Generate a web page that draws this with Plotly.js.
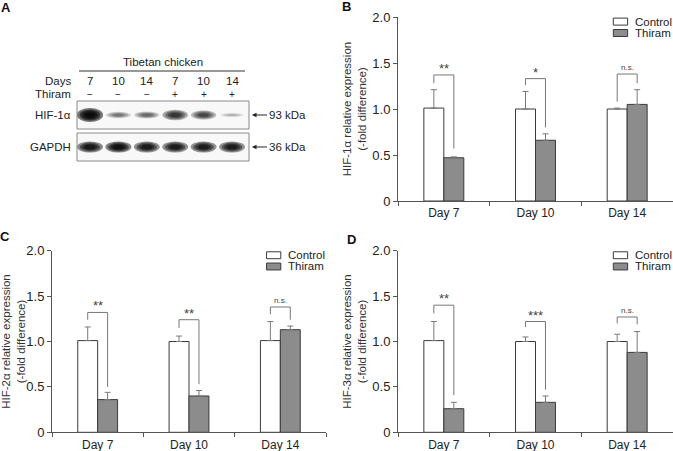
<!DOCTYPE html>
<html>
<head>
<meta charset="utf-8">
<script src="https://cdn.plot.ly/plotly-3.0.1.min.js"></script>
<style>html,body{margin:0;padding:0;background:#fff;}#chart{width:673px;height:451px;}</style>
</head>
<body>
<div id="chart"></div>
<script>
// ---------- DATA ----------
const days = ['Day 7', 'Day 10', 'Day 14'];
const yTickVals = [0, 0.5, 1, 1.5, 2];
const yTickText = ['0', '0.5', '1.0', '1.5', '2.0'];
const seriesNames = ['Control', 'Thiram'];

// Panel B: HIF-1α
const hif1Control = [1.01, 1.00, 1.00];
const hif1ControlErr = [0.20, 0.19, 0.01];
const hif1Thiram = [0.47, 0.66, 1.05];
const hif1ThiramErr = [0.01, 0.07, 0.16];
const hif1BracketTop = [1.37, 1.33, 1.38];
const hif1BracketLeft = [1.28, 1.26, 1.08];
const hif1BracketRight = [0.57, 0.80, 1.28];
const hif1Sig = ['**', '*', 'n.s.'];

// Panel C: HIF-2α
const hif2Control = [1.01, 1.00, 1.01];
const hif2ControlErr = [0.15, 0.06, 0.21];
const hif2Thiram = [0.36, 0.40, 1.13];
const hif2ThiramErr = [0.08, 0.06, 0.04];
const hif2BracketTop = [1.32, 1.24, 1.38];
const hif2BracketLeft = [1.24, 1.15, 1.30];
const hif2BracketRight = [0.50, 0.53, 1.24];
const hif2Sig = ['**', '**', 'n.s.'];

// Panel D: HIF-3α
const hif3Control = [1.01, 1.00, 1.00];
const hif3ControlErr = [0.21, 0.05, 0.08];
const hif3Thiram = [0.26, 0.33, 0.88];
const hif3ThiramErr = [0.07, 0.07, 0.23];
const hif3BracketTop = [1.40, 1.22, 1.27];
const hif3BracketLeft = [1.31, 1.16, 1.20];
const hif3BracketRight = [0.41, 0.47, 1.19];
const hif3Sig = ['**', '***', 'n.s.'];

// Panel A: western blot
const blotTitle = 'Tibetan chicken';
const laneDays = ['7', '10', '14', '7', '10', '14'];
const laneThiram = ['\u2212', '\u2212', '\u2212', '+', '+', '+'];
const hifBandIntensity = [1.0, 0.55, 0.6, 0.82, 0.75, 0.3];
const gapdhBandIntensity = [0.95, 0.97, 0.93, 0.93, 0.93, 0.93];
const blotRows = ['HIF-1\u03b1', 'GAPDH'];
const blotSizes = ['93 kDa', '36 kDa'];

// ---------- STYLE ----------
const FONT = 'Arial, "Liberation Sans", sans-serif';
const AXC = '#555';
const TXT = '#222';
const CTRL_FILL = '#ffffff';
const THIR_FILL = '#8c8c8c';
const BAR_LINE = '#3a3a3a';
const ERR_C = '#7a7a7a';
const BRK_C = '#777';
const BARGAP = 0.564;
const OFF = (1 - BARGAP) / 4;
const W = 673, H = 451;

const idx = days.map((d, i) => i);
const zeros = days.map(() => 0);

const panels = [
  {xa: 'x', ya: 'y', ctrl: hif1Control, ce: hif1ControlErr, thr: hif1Thiram, te: hif1ThiramErr,
   top: hif1BracketTop, left: hif1BracketLeft, right: hif1BracketRight, sig: hif1Sig,
   title: 'HIF-1\u03b1 relative expression<br>(-fold difference)'},
  {xa: 'x2', ya: 'y2', ctrl: hif2Control, ce: hif2ControlErr, thr: hif2Thiram, te: hif2ThiramErr,
   top: hif2BracketTop, left: hif2BracketLeft, right: hif2BracketRight, sig: hif2Sig,
   title: 'HIF-2\u03b1 relative expression<br>(-fold difference)'},
  {xa: 'x3', ya: 'y3', ctrl: hif3Control, ce: hif3ControlErr, thr: hif3Thiram, te: hif3ThiramErr,
   top: hif3BracketTop, left: hif3BracketLeft, right: hif3BracketRight, sig: hif3Sig,
   title: 'HIF-3\u03b1 relative expression<br>(-fold difference)'}
];

const traces = [];
const shapes = [];
const annotations = [];

panels.forEach(p => {
  traces.push({
    type: 'bar', x: idx, y: p.ctrl, name: seriesNames[0], xaxis: p.xa, yaxis: p.ya,
    offsetgroup: 'c', showlegend: false,
    marker: {color: CTRL_FILL, line: {color: BAR_LINE, width: 1}},
    error_y: {type: 'data', symmetric: false, array: p.ce, arrayminus: zeros, color: ERR_C, thickness: 1, width: 3}
  });
  traces.push({
    type: 'bar', x: idx, y: p.thr, name: seriesNames[1], xaxis: p.xa, yaxis: p.ya,
    offsetgroup: 't', showlegend: false,
    marker: {color: THIR_FILL, line: {color: BAR_LINE, width: 1}},
    error_y: {type: 'data', symmetric: false, array: p.te, arrayminus: zeros, color: ERR_C, thickness: 1, width: 3}
  });
  // significance brackets
  idx.forEach(i => {
    const xl = i - OFF, xr = i + OFF;
    shapes.push({type: 'path', xref: p.xa, yref: p.ya,
      path: `M ${xl},${p.left[i]} L ${xl},${p.top[i]} L ${xr},${p.top[i]} L ${xr},${p.right[i]}`,
      line: {color: BRK_C, width: 1}});
    const ns = p.sig[i] === 'n.s.';
    annotations.push({xref: p.xa, yref: p.ya, x: i, y: p.top[i], text: p.sig[i], showarrow: false,
      yanchor: 'bottom', yshift: ns ? 0 : -3, font: {size: ns ? 8 : 13, color: '#444', family: FONT}});
  });
  // manual legend
  const xd = p.xa + ' domain', yd = p.ya + ' domain';
  [[0.975, CTRL_FILL], [0.913, THIR_FILL]].forEach((r, k) => {
    shapes.push({type: 'rect', xref: xd, yref: yd, x0: 0.783, x1: 0.835, y0: r[0] - 0.019, y1: r[0] + 0.019,
      fillcolor: r[1], line: {color: BAR_LINE, width: 1}});
    annotations.push({xref: xd, yref: yd, x: 0.853, y: r[0], text: seriesNames[k], showarrow: false,
      xanchor: 'left', yanchor: 'middle', font: {size: 11.5, color: TXT, family: FONT}});
  });
});

function xAx(domain, anchor) {
  return {domain: domain, anchor: anchor, range: [-0.5, 2.5], tickmode: 'array', tickvals: idx, ticktext: days,
    ticks: 'outside', ticklen: 1, tickcolor: 'rgba(0,0,0,0)', showline: true, linecolor: AXC, linewidth: 1,
    showgrid: false, zeroline: false, tickfont: {size: 12, color: TXT, family: FONT}, fixedrange: true,
    minor: {tickmode: 'array', tickvals: [-0.5, 0.5, 1.5, 2.5], ticks: 'outside', ticklen: 4, tickcolor: AXC, showgrid: false}};
}
function yAx(domain, anchor, title) {
  return {domain: domain, anchor: anchor, range: [0, 2], tickmode: 'array', tickvals: yTickVals, ticktext: yTickText,
    ticks: 'outside', ticklen: 4, tickcolor: AXC, showline: true, linecolor: AXC, linewidth: 1,
    showgrid: false, zeroline: false, tickfont: {size: 13, color: TXT, family: FONT}, fixedrange: true,
    title: {text: title, font: {size: 11.5, color: '#333', family: FONT}, standoff: 3}};
}

// ---------- PANEL A (blot) on x4/y4: lane units / row units ----------
const LANE_PX = 28.4, LANE0_PX = 90;
const ROW_PX = 32, ROW0_PX = 115;
const ax4range = [(0 - LANE0_PX) / LANE_PX, (340 - LANE0_PX) / LANE_PX];
const ay4range = [(200 - ROW0_PX) / ROW_PX, (0 - ROW0_PX) / ROW_PX];
const lanes = laneDays.map((d, i) => i);
const boxX0 = (77 - LANE0_PX) / LANE_PX, boxX1 = (249 - LANE0_PX) / LANE_PX;
const boxHalf = 14 / ROW_PX;
const labelX = (73 - LANE0_PX) / LANE_PX;

blotRows.forEach((r, row) => {
  shapes.push({type: 'rect', xref: 'x4', yref: 'y4', x0: boxX0, x1: boxX1, y0: row - boxHalf, y1: row + boxHalf,
    fillcolor: '#f8f8f8', line: {width: 0}});
});
function band(i, row, intensity, halfHpx) {
  const hw = 0.40 + 0.06 * intensity;
  const a = 1 - Math.pow(1 - 0.95 * intensity, 0.25);
  [1, 0.8, 0.6, 0.4].forEach(s => {
    shapes.push({type: 'circle', xref: 'x4', yref: 'y4',
      x0: i - hw * s, x1: i + hw * s, y0: row - halfHpx * s / ROW_PX, y1: row + halfHpx * s / ROW_PX,
      fillcolor: '#000', opacity: a, line: {width: 0}});
  });
}
lanes.forEach(i => band(i, 0, hifBandIntensity[i], 1.5 + 5.5 * hifBandIntensity[i] * hifBandIntensity[i]));
lanes.forEach(i => band(i, 1, gapdhBandIntensity[i], 5.5));
blotRows.forEach((r, row) => {
  shapes.push({type: 'rect', xref: 'x4', yref: 'y4', x0: boxX0, x1: boxX1, y0: row - boxHalf, y1: row + boxHalf,
    fillcolor: 'rgba(0,0,0,0)', line: {color: '#888', width: 1}});
  annotations.push({xref: 'x4', yref: 'y4', x: labelX, y: row, text: r, showarrow: false, xanchor: 'right',
    yanchor: 'middle', font: {size: 11.5, color: TXT, family: FONT}});
  annotations.push({xref: 'x4', yref: 'y4', x: (252 - LANE0_PX) / LANE_PX, y: row, text: blotSizes[row],
    showarrow: true, ax: 15, ay: 0, xanchor: 'left', arrowhead: 2, arrowsize: 0.9, arrowwidth: 1,
    arrowcolor: '#222', standoff: 0, font: {size: 11.5, color: TXT, family: FONT}});
});
const rowDays = (81 - ROW0_PX) / ROW_PX, rowThiram = (94 - ROW0_PX) / ROW_PX;
annotations.push({xref: 'x4', yref: 'y4', x: labelX, y: rowDays, text: 'Days', showarrow: false, xanchor: 'right',
  font: {size: 11.5, color: TXT, family: FONT}});
annotations.push({xref: 'x4', yref: 'y4', x: labelX, y: rowThiram, text: 'Thiram', showarrow: false, xanchor: 'right',
  font: {size: 11.5, color: TXT, family: FONT}});
lanes.forEach(i => {
  annotations.push({xref: 'x4', yref: 'y4', x: i, y: rowDays, text: laneDays[i], showarrow: false,
    font: {size: 11.5, color: TXT, family: FONT}});
  annotations.push({xref: 'x4', yref: 'y4', x: i, y: rowThiram, text: laneThiram[i], showarrow: false,
    font: {size: 10, color: TXT, family: FONT}});
});
annotations.push({xref: 'x4', yref: 'y4', x: (163 - LANE0_PX) / LANE_PX, y: (62 - ROW0_PX) / ROW_PX, text: blotTitle,
  showarrow: false, font: {size: 11.5, color: TXT, family: FONT}});
shapes.push({type: 'line', xref: 'x4', yref: 'y4', x0: (79 - LANE0_PX) / LANE_PX, x1: (245 - LANE0_PX) / LANE_PX,
  y0: (71 - ROW0_PX) / ROW_PX, y1: (71 - ROW0_PX) / ROW_PX, line: {color: '#333', width: 1}});

// panel letters
[['A', 5.5, 7.5], ['B', 346.5, 7], ['C', 5, 236], ['D', 351, 239]].forEach(l => {
  annotations.push({xref: 'paper', yref: 'paper', x: l[1] / W, y: 1 - l[2] / H, text: '<b>' + l[0] + '</b>',
    showarrow: false, xanchor: 'center', yanchor: 'middle', font: {size: 13, color: '#111', family: FONT}});
});

const layout = {
  width: W, height: H, margin: {l: 0, r: 0, t: 0, b: 0},
  paper_bgcolor: '#fff', plot_bgcolor: 'rgba(0,0,0,0)',
  font: {family: FONT, size: 11, color: TXT},
  barmode: 'group', bargap: BARGAP, bargroupgap: 0,
  showlegend: false,
  xaxis: xAx([398 / W, 1], 'y'),
  yaxis: yAx([1 - 201 / H, 1 - 17 / H], 'x', panels[0].title),
  xaxis2: xAx([52 / W, 326 / W], 'y2'),
  yaxis2: yAx([1 - 432.3 / H, 1 - 250.7 / H], 'x2', panels[1].title),
  xaxis3: xAx([398 / W, 1], 'y3'),
  yaxis3: yAx([1 - 432.3 / H, 1 - 250.7 / H], 'x3', panels[2].title),
  xaxis4: {domain: [0, 340 / W], anchor: 'y4', range: ax4range, visible: false, fixedrange: true},
  yaxis4: {domain: [1 - 200 / H, 1], anchor: 'x4', range: ay4range, visible: false, fixedrange: true},
  shapes: shapes,
  annotations: annotations
};

Plotly.newPlot('chart', traces, layout, {displayModeBar: false, staticPlot: true});
</script>
</body>
</html>
